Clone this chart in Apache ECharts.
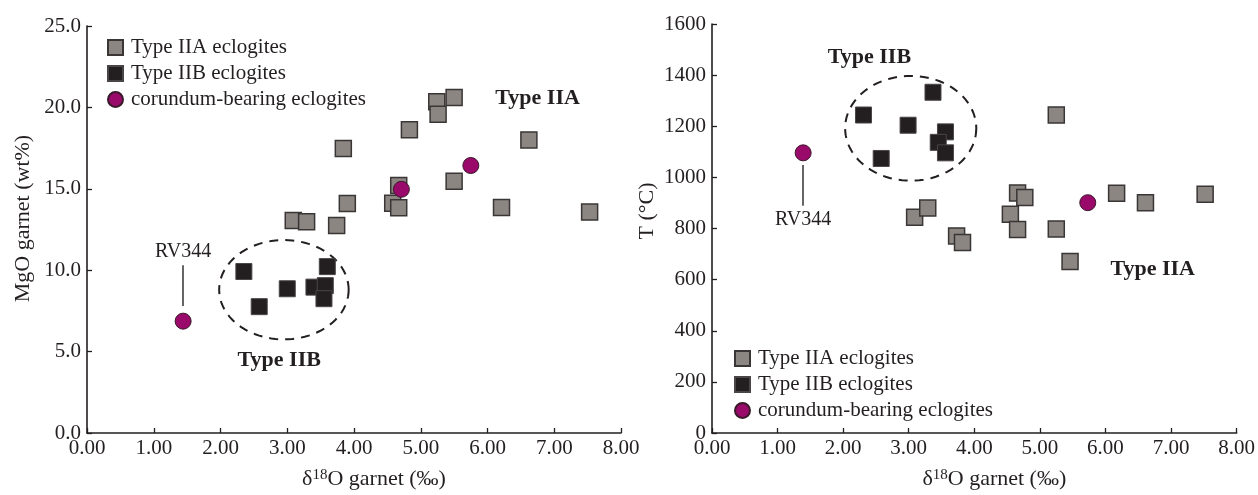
<!DOCTYPE html>
<html><head><meta charset="utf-8">
<script src="https://cdn.jsdelivr.net/npm/echarts@6/dist/echarts.min.js"></script>
<style>html,body{margin:0;padding:0;background:#fff}#c{width:1258px;height:495px}</style>
</head><body><div id="c"></div>
<script>
// ---- data ----
const seriesNames = ['Type IIA eclogites', 'Type IIB eclogites', 'corundum-bearing eclogites'];
const xLabels = ['0.00','1.00','2.00','3.00','4.00','5.00','6.00','7.00','8.00'];
const yLabelsMgO = ['0.0','5.0','10.0','15.0','20.0','25.0'];
const yLabelsT = ['0','200','400','600','800','1000','1200','1400','1600'];

// Left chart: [δ18O garnet, MgO garnet]
const mgoIIA = [[3.09,13.05],[3.29,12.98],[3.74,12.74],[3.84,17.48],[3.90,14.10],[4.58,14.12],[4.67,13.84],[4.67,15.20],[4.83,18.63],[5.24,20.35],[5.26,19.58],[5.50,20.61],[5.50,15.47],[6.21,13.85],[6.62,18.00],[7.53,13.57]];
const mgoIIB = [[2.35,9.92],[2.58,7.76],[3.00,8.86],[3.40,8.96],[3.57,9.05],[3.60,10.22],[3.55,8.25]];
const mgoCor = [[1.44,6.87],[4.71,14.97],[5.75,16.43]];

// Right chart: [δ18O garnet, T (°C)]
const tIIA = [[5.25,1244],[3.09,844],[3.29,880],[3.73,771],[3.82,745],[4.66,939],[4.77,921],[4.55,856],[4.66,796],[5.25,798],[5.46,671],[6.17,938],[6.61,901],[7.52,934]];
const tIIB = [[2.31,1244],[2.58,1074],[2.99,1204],[3.37,1333],[3.56,1178],[3.45,1137],[3.56,1096]];
const tCor = [[1.39,1096],[5.73,901]];

// group outlines (dashed ellipses): [cx, cy, rx, ry] in data units
const mgoGroupIIB = [[2.95, 8.8, 0.97, 3.05]];
const tGroupIIB = [[3.03, 1192, 1.0, 205]];

// text annotations: [x, y, text]
const mgoNotes = [[6.75, 20.55, 'Type IIA'], [2.88, 4.45, 'Type IIB']];
const tNotes = [[6.72, 642, 'Type IIA'], [2.40, 1468, 'Type IIB']];

// RV344 leader lines: [y from, y to]
const mgoRV = [7.8, 10.3];
const tRV = [1048, 889];

// ---- styles ----
const FONT = "'Liberation Serif','Times New Roman',serif";
const INK = '#231f20';
const grayStyle = {color:'#8b8682', borderColor:'#3a3636', borderWidth:1.5, opacity:1};
const blackStyle = {color:'#231f20', borderColor:'#4a4546', borderWidth:1, opacity:1};
const magStyle = {color:'#990a6b', borderColor:'#3a1a2a', borderWidth:1, opacity:1};

function xAxisDef(gi){
  return {
    gridIndex: gi, type:'value', min:0, max:8, interval:1,
    axisLine:{show:true, onZero:false, lineStyle:{color:INK, width:1.6}},
    axisTick:{show:true, inside:true, length:5, lineStyle:{color:INK, width:1.3}},
    splitLine:{show:false},
    axisLabel:{color:INK, fontFamily:FONT, fontSize:21, margin:5,
      formatter:(v)=>xLabels[Math.round(v)]},
    name:'{d|δ}{s|18}{d|O garnet (‰)}', nameLocation:'middle', nameGap:35,
    nameTextStyle:{padding:[0,0,0,40], rich:{
      d:{fontFamily:FONT, fontSize:22, color:INK},
      s:{fontFamily:FONT, fontSize:15, color:INK, verticalAlign:'top', padding:[0,0,6,0]}
    }}
  };
}
function yAxisDef(gi, max, interval, labels, name, gap, pad){
  return {
    gridIndex: gi, type:'value', min:0, max:max, interval:interval,
    axisLine:{show:true, onZero:false, lineStyle:{color:INK, width:1.6}},
    axisTick:{show:true, inside:true, length:5, lineStyle:{color:INK, width:1.3}},
    splitLine:{show:false},
    axisLabel:{color:INK, fontFamily:FONT, fontSize:21, margin:6,
      formatter:(v)=>labels[Math.round(v/interval)]},
    name:name, nameLocation:'middle', nameGap:gap,
    nameTextStyle:{fontFamily:FONT, fontSize:22, color:INK, padding:pad}
  };
}
function ellipseSeries(xi, yi, data){
  return {
    type:'custom', xAxisIndex:xi, yAxisIndex:yi, silent:true, z:1,
    data:data,
    renderItem:function(params, api){
      const c = api.coord([api.value(0), api.value(1)]);
      const s = api.size([api.value(2), api.value(3)]);
      const pts = [];
      for (let i=0;i<=96;i++){
        const a = i/96*Math.PI*2;
        pts.push([c[0]+s[0]*Math.cos(a), c[1]+s[1]*Math.sin(a)]);
      }
      return {type:'polyline', shape:{points:pts},
        style:{fill:null, stroke:INK, lineWidth:2, lineDash:[9,7]}};
    }
  };
}
function noteSeries(xi, yi, notes){
  return {
    type:'scatter', xAxisIndex:xi, yAxisIndex:yi, symbolSize:0, silent:true,
    itemStyle:{opacity:1},
    data: notes.map(n=>({value:[n[0],n[1]], name:n[2]})),
    label:{show:true, position:'inside', formatter:'{b}', fontFamily:FONT,
      fontSize:22, fontWeight:'bold', color:INK, opacity:1}
  };
}
function rvMarkLine(x, ys){
  return {
    symbol:['none','none'], silent:true, animation:false,
    lineStyle:{color:'#333', width:1.5, type:'solid', opacity:1},
    label:{show:true, position:'end', formatter:'RV344', fontFamily:FONT, fontSize:20, color:INK, distance:4},
    data:[[{coord:[x, ys[0]]},{coord:[x, ys[1]]}]]
  };
}
function pointSeries(name, xi, yi, data, style, symbol, size){
  return {name:name, type:'scatter', xAxisIndex:xi, yAxisIndex:yi, data:data,
    symbol:symbol, symbolSize:size, itemStyle:style, z:3};
}

const legendBase = {
  orient:'vertical', itemWidth:15, itemHeight:15, itemGap:5,
  textStyle:{fontFamily:FONT, fontSize:21, color:INK, padding:[0,0,0,3]},
  selectedMode:false,
  data:[{name:seriesNames[0], icon:'rect'},{name:seriesNames[1], icon:'rect'},{name:seriesNames[2], icon:'circle'}]
};

const option = {
  animation:false,
  backgroundColor:'#fff',
  grid:[
    {left:87, right:637, top:26, bottom:59},
    {left:712, right:12, top:24, bottom:60}
  ],
  legend:[
    Object.assign({left:102, top:32}, legendBase),
    Object.assign({left:729, top:343}, legendBase)
  ],
  xAxis:[xAxisDef(0), xAxisDef(1)],
  yAxis:[
    yAxisDef(0, 25, 5, yLabelsMgO, 'MgO garnet (wt%)', 53, [0,0,0,22]),
    yAxisDef(1, 1600, 200, yLabelsT, 'T (°C)', 54, [0,0,0,35])
  ],
  series:[
    ellipseSeries(0,0,mgoGroupIIB),
    ellipseSeries(1,1,tGroupIIB),
    pointSeries(seriesNames[0],0,0,mgoIIA,grayStyle,'rect',16),
    pointSeries(seriesNames[1],0,0,mgoIIB,blackStyle,'rect',16),
    Object.assign(pointSeries(seriesNames[2],0,0,mgoCor,magStyle,'circle',16),
      {markLine: rvMarkLine(mgoCor[0][0], mgoRV)}),
    pointSeries(seriesNames[0],1,1,tIIA,grayStyle,'rect',16),
    pointSeries(seriesNames[1],1,1,tIIB,blackStyle,'rect',16),
    Object.assign(pointSeries(seriesNames[2],1,1,tCor,magStyle,'circle',16),
      {markLine: rvMarkLine(tCor[0][0], tRV)}),
    noteSeries(0,0,mgoNotes),
    noteSeries(1,1,tNotes)
  ]
};
const chart = echarts.init(document.getElementById('c'), null, {renderer:'canvas'});
chart.setOption(option);
</script>
</body></html>
